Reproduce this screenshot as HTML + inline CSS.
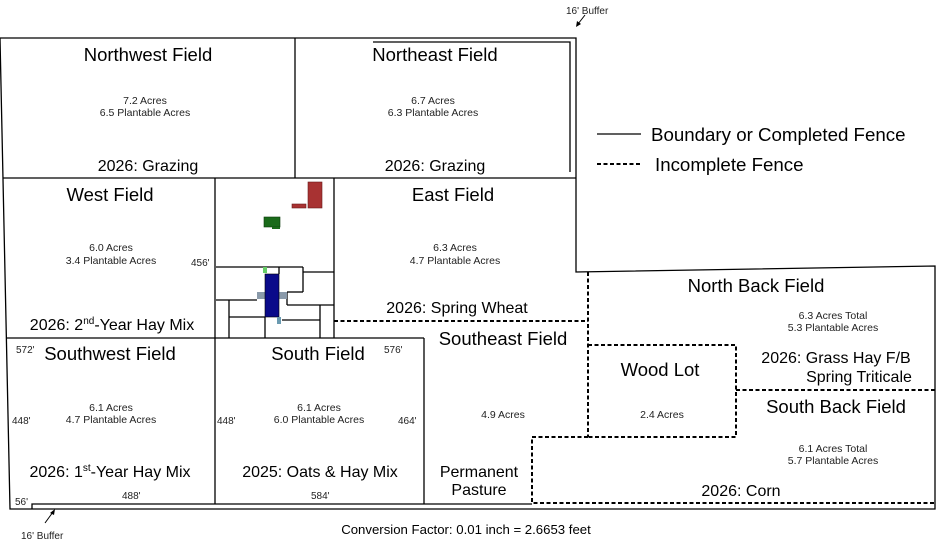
<!DOCTYPE html>
<html><head><meta charset="utf-8"><style>
html,body{margin:0;padding:0;background:#fff;}
svg{display:block;font-family:"Liberation Sans",sans-serif;}
</style></head><body>
<svg width="937" height="547" viewBox="0 0 937 547" xmlns="http://www.w3.org/2000/svg">
<g fill="none" stroke="#000" stroke-width="1.3">
<polyline points="0,38 576,38 576,272 935,266 935,509 10,509 0,38"/>
<polyline points="373,42 570,42 570,172"/>
<polyline points="32,509 32,504 532,504"/>
<line x1="295" y1="38" x2="295" y2="178"/>
<line x1="3" y1="178" x2="576" y2="178"/>
<line x1="215" y1="178" x2="215" y2="504"/>
<line x1="334" y1="178" x2="334" y2="338"/>
<line x1="7" y1="338" x2="424" y2="338"/>
<line x1="424" y1="338" x2="424" y2="504"/>
<line x1="216" y1="267" x2="303" y2="267"/>
<line x1="303" y1="267" x2="303" y2="292"/>
<line x1="303" y1="272" x2="334" y2="272"/>
<line x1="287" y1="292" x2="303" y2="292"/>
<line x1="287" y1="305" x2="334" y2="305"/>
<line x1="287" y1="292" x2="287" y2="305"/>
<line x1="216" y1="300" x2="257" y2="300"/>
<line x1="229" y1="300" x2="229" y2="338"/>
<line x1="229" y1="317" x2="265" y2="317"/>
<line x1="265" y1="317" x2="265" y2="338"/>
<line x1="282" y1="320" x2="320" y2="320"/>
<line x1="320" y1="305" x2="320" y2="338"/>
<line x1="279" y1="267" x2="279" y2="274"/>
</g>
<rect x="308" y="182" width="14" height="26" fill="#a83232" stroke="#6a1a1a" stroke-width="0.6"/>
<rect x="292" y="204" width="14" height="4" fill="#a83232" stroke="#6a1a1a" stroke-width="0.6"/>
<rect x="264" y="217" width="16" height="10" fill="#1a6b1a" stroke="#0a3a0a" stroke-width="0.6"/>
<rect x="272" y="227" width="8" height="2" fill="#1a6b1a"/>
<rect x="257" y="292" width="30" height="7" fill="#8a9aaa"/>
<rect x="265" y="274" width="14" height="43" fill="#0a0a8a" stroke="#000" stroke-width="0.6"/>
<rect x="263" y="267" width="4" height="6" fill="#6c6"/>
<rect x="277" y="317" width="4" height="7" fill="#6a9ab0"/>
<g fill="none" stroke="#000" stroke-width="2" stroke-dasharray="4,2.5">
<polyline points="334,321 588,321"/>
<polyline points="588,272 588,437"/>
<polyline points="588,345 736,345 736,437 588,437"/>
<polyline points="736,390 935,390"/>
<polyline points="588,437 532,437 532,503 935,503"/>
</g>
<line x1="597" y1="134" x2="641" y2="134" stroke="#000" stroke-width="1.3"/>
<line x1="597" y1="164" x2="641" y2="164" stroke="#000" stroke-width="2" stroke-dasharray="4,2.5"/>
<g font-size="18.7" fill="#000">
<text x="651" y="141">Boundary or Completed Fence</text>
<text x="655" y="171">Incomplete Fence</text>
</g>
<line x1="578" y1="24" x2="585" y2="15" stroke="#000" stroke-width="1"/>
<polygon points="576,27 577,21 581,24" fill="#000"/>
<line x1="45" y1="523" x2="53" y2="512" stroke="#000" stroke-width="1"/>
<polygon points="55,509 50,513 54,515" fill="#000"/>
<g font-size="10" fill="#222">
<text x="566" y="14">16' Buffer</text>
<text x="21" y="539">16' Buffer</text>
<text x="191" y="266">456'</text>
<text x="16" y="353">572'</text>
<text x="384" y="353">576'</text>
<text x="12" y="424">448'</text>
<text x="217" y="424">448'</text>
<text x="398" y="424">464'</text>
<text x="15" y="505">56'</text>
<text x="122" y="499">488'</text>
<text x="311" y="499">584'</text>
</g>
<g font-size="18.5" fill="#000" text-anchor="middle">
<text x="148" y="61">Northwest Field</text>
<text x="435" y="61">Northeast Field</text>
<text x="110" y="201">West Field</text>
<text x="453" y="201">East Field</text>
<text x="110" y="360">Southwest Field</text>
<text x="318" y="360">South Field</text>
<text x="503" y="345">Southeast Field</text>
<text x="756" y="292">North Back Field</text>
<text x="660" y="376">Wood Lot</text>
<text x="836" y="413">South Back Field</text>
</g>
<g font-size="16" fill="#000" text-anchor="middle">
<text x="148" y="171">2026: Grazing</text>
<text x="435" y="171">2026: Grazing</text>
<text x="112" y="330">2026: 2<tspan font-size="10" dy="-6">nd</tspan><tspan dy="6">-Year Hay Mix</tspan></text>
<text x="457" y="313">2026: Spring Wheat</text>
<text x="110" y="477">2026: 1<tspan font-size="10" dy="-6">st</tspan><tspan dy="6">-Year Hay Mix</tspan></text>
<text x="320" y="477">2025: Oats &amp; Hay Mix</text>
<text x="479" y="477">Permanent</text>
<text x="479" y="495">Pasture</text>
<text x="836" y="363">2026: Grass Hay F/B</text>
<text x="859" y="382">Spring Triticale</text>
<text x="741" y="496">2026: Corn</text>
</g>
<g font-size="10.5" fill="#222" text-anchor="middle">
<text x="145" y="104">7.2 Acres</text><text x="145" y="116">6.5 Plantable Acres</text>
<text x="433" y="104">6.7 Acres</text><text x="433" y="116">6.3 Plantable Acres</text>
<text x="111" y="251">6.0 Acres</text><text x="111" y="264">3.4 Plantable Acres</text>
<text x="455" y="251">6.3 Acres</text><text x="455" y="264">4.7 Plantable Acres</text>
<text x="111" y="411">6.1 Acres</text><text x="111" y="423">4.7 Plantable Acres</text>
<text x="319" y="411">6.1 Acres</text><text x="319" y="423">6.0 Plantable Acres</text>
<text x="503" y="418">4.9 Acres</text>
<text x="662" y="418">2.4 Acres</text>
<text x="833" y="319">6.3 Acres Total</text><text x="833" y="331">5.3 Plantable Acres</text>
<text x="833" y="452">6.1 Acres Total</text><text x="833" y="464">5.7 Plantable Acres</text>
</g>
<text x="466" y="534" font-size="13.2" fill="#000" text-anchor="middle">Conversion Factor: 0.01 inch = 2.6653 feet</text>
</svg>
</body></html>
